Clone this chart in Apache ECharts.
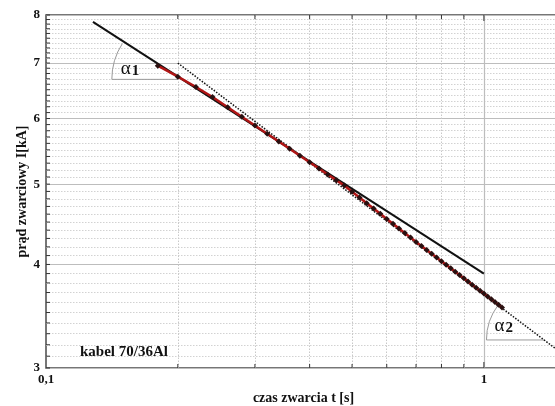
<!DOCTYPE html>
<html><head><meta charset="utf-8">
<script src="https://cdn.jsdelivr.net/npm/echarts@6/dist/echarts.min.js"></script>
<style>html,body{margin:0;padding:0;background:#fff}#c{width:555px;height:406px}</style>
</head><body><div id="c"></div>
<script>
// measured short-circuit current vs time (log-log)
const tValues = [0.18,0.20,0.22,0.24,0.26,0.28,0.30,0.32,0.34,0.36,0.38,0.40,0.42,0.44,0.46,0.48,
  0.50,0.52,0.54,0.56,0.58,0.60,0.62,0.64,0.66,0.68,0.70,0.72,0.74,0.76,0.78,0.80,0.82,0.84,0.86,0.88,
  0.90,0.92,0.94,0.96,0.98,1.00,1.02,1.04,1.06,1.08,1.10];
const iValues = [6.95,6.74,6.55,6.37,6.19,6.03,5.885,5.751,5.629,5.516,5.411,5.313,5.222,5.136,5.056,4.98,
  4.896,4.818,4.742,4.672,4.604,4.539,4.479,4.420,4.364,4.311,4.259,4.21,4.164,4.120,4.077,4.036,3.996,3.957,3.920,3.884,
  3.849,3.815,3.782,3.750,3.719,3.689,3.659,3.631,3.603,3.576,3.55];
// tangent at the start (alpha1) and tangent at the end (alpha2)
const tangent1T = [0.128, 1.0];
const tangent1I = [7.85, 3.90];
const tangent2T = [0.2, 1.5];
const tangent2I = [7.0, 3.13];
// axes
const yMajorTicks = [3,4,5,6,7,8];
const yMinorTicks = [3.1,3.2,3.3,3.4,3.5,3.6,3.7,3.8,3.9,4.1,4.2,4.3,4.4,4.5,4.6,4.7,4.8,4.9,
  5.1,5.2,5.3,5.4,5.5,5.6,5.7,5.8,5.9,6.1,6.2,6.3,6.4,6.5,6.6,6.7,6.8,6.9,7.1,7.2,7.3,7.4,7.5,7.6,7.7,7.8,7.9];
const xMinorTicks = [0.2,0.3,0.4,0.5,0.6,0.7,0.8,0.9];
const xMajorTicks = [0.1, 1];
const xTickLabels = ['0,1', '1'];
const xRange = [0.1, 1.5];
const yRange = [3, 8];
const caption = 'kabel 70/36Al';
const xName = 'czas zwarcia t [s]';
const yName = 'prąd zwarciowy I[kA]';

const FONT = "'Liberation Serif','DejaVu Serif',serif";
const chart = echarts.init(document.getElementById('c'), null, {renderer: 'canvas'});

const gridLines = [];
yMajorTicks.forEach(v => gridLines.push({yAxis: v,
  lineStyle: {type: 'solid', color: '#bdbdbd', width: 1.2},
  label: {show: true, position: 'start', formatter: String(v), distance: 6,
    fontFamily: FONT, fontWeight: 'bold', fontSize: 13, color: '#111'}}));
yMinorTicks.forEach(v => gridLines.push({yAxis: v,
  lineStyle: {type: [1.5, 1.5], color: '#d2d2d2', width: 1}, label: {show: false}}));
xMinorTicks.forEach(v => gridLines.push({xAxis: v,
  lineStyle: {type: [1.5, 1.5], color: '#c8c8c8', width: 1}, label: {show: false}}));
xMajorTicks.forEach((v, k) => gridLines.push({xAxis: v,
  lineStyle: {type: 'solid', color: k === 0 ? 'rgba(0,0,0,0)' : '#bdbdbd', width: 1.2},
  label: {show: true, position: 'start', formatter: xTickLabels[k], distance: 5,
    fontFamily: FONT, fontWeight: 'bold', fontSize: 13, color: '#111'}}));

const option = {
  animation: false,
  backgroundColor: '#fff',
  grid: {left: 46, top: 15, height: 353, width: 515, containLabel: false, outerBoundsMode: 'none',
    show: true, borderColor: '#4a4a4a', borderWidth: 1.5},
  xAxis: {type: 'log', logBase: 10, min: xRange[0], max: xRange[1],
    axisLine: {show: false}, axisTick: {show: false}, axisLabel: {show: false}, splitLine: {show: false},
    name: xName, nameLocation: 'middle', nameGap: 23,
    nameTextStyle: {fontFamily: FONT, fontWeight: 'bold', fontSize: 14, color: '#111'}},
  yAxis: {type: 'log', logBase: 10, min: yRange[0], max: yRange[1],
    axisLine: {show: false}, axisTick: {show: false}, axisLabel: {show: false}, splitLine: {show: false},
    name: yName, nameLocation: 'middle', nameGap: 17, nameRotate: 90,
    nameTextStyle: {fontFamily: FONT, fontWeight: 'bold', fontSize: 14, color: '#111'}},
  series: [
    {type: 'line', data: [], clip: false, silent: true, z: 1,
      markLine: {silent: true, z: 1, symbol: ['none', 'none'], animation: false, data: gridLines}},
    {type: 'line', name: 'styczna 1', data: tangent1T.map((t, k) => [t, tangent1I[k]]),
      showSymbol: false, symbol: 'none', silent: true, z: 6,
      lineStyle: {color: '#111', width: 2}},
    {type: 'line', name: 'styczna 2', data: tangent2T.map((t, k) => [t, tangent2I[k]]),
      showSymbol: false, symbol: 'none', silent: true, z: 6,
      lineStyle: {color: '#111', width: 1.5, type: [1.5, 1.5]}},
    {type: 'line', name: 'pomiar', data: tValues.map((t, k) => [t, iValues[k]]),
      symbol: 'diamond', symbolSize: 6, silent: true, z: 7,
      itemStyle: {color: '#2a1010'},
      lineStyle: {color: '#b01515', width: 2.5}}
  ]
};
chart.setOption(option);

const px = (x, y) => chart.convertToPixel({gridIndex: 0}, [x, y]);
const g = [];
const tick = (x1, y1, x2, y2) => g.push({type: 'line', silent: true, z: 10,
  shape: {x1, y1, x2, y2}, style: {stroke: '#333', lineWidth: 1}});
yMinorTicks.concat(yMajorTicks).forEach(v => { const p = px(xRange[0], v); tick(p[0], p[1], p[0] + 4, p[1]); });
xMinorTicks.concat([1]).forEach(v => {
  const b = px(v, yRange[0]), t = px(v, yRange[1]);
  const L = v === 1 ? 6 : 4;
  tick(b[0], b[1], b[0], b[1] - L); tick(t[0], t[1], t[0], t[1] + L);
});

// angle annotations
function angleMark(center, lineT, lineI, r, sub, dx, dy) {
  const c = px(center[0], center[1]);
  const a = px(lineT[0], lineI[0]), b = px(lineT[1], lineI[1]);
  let ang = Math.atan2(a[1] - b[1], a[0] - b[0]);
  if (ang < 0) ang += 2 * Math.PI;
  g.push({type: 'arc', silent: true, z: 6,
    shape: {cx: c[0], cy: c[1], r, startAngle: Math.PI, endAngle: ang, clockwise: true},
    style: {stroke: '#9a9a9a', fill: 'none', lineWidth: 1}});
  g.push({type: 'line', silent: true, z: 6,
    shape: {x1: c[0] - r, y1: c[1], x2: c[0], y2: c[1]}, style: {stroke: '#9a9a9a', lineWidth: 1}});
  g.push({type: 'text', silent: true, z: 7, x: c[0] + dx, y: c[1] + dy,
    style: {text: 'α', fontFamily: FONT, fontSize: 19, fill: '#111', textAlign: 'left', textVerticalAlign: 'middle'}});
  g.push({type: 'text', silent: true, z: 7, x: c[0] + dx + 11, y: c[1] + dy + 2,
    style: {text: sub, fontFamily: FONT, fontWeight: 'bold', fontSize: 15, fill: '#111', textAlign: 'left', textVerticalAlign: 'middle'}});
}
angleMark([0.2, 6.69], tangent1T, tangent1I, 66, '1', -57, -10);
angleMark([1.375, 3.243], tangent2T, tangent2I, 58, '2', -50, -14);

const bl = px(xRange[0], yRange[0]);
g.push({type: 'text', silent: true, z: 7, x: bl[0] + 34, y: bl[1] - 16,
  style: {text: caption, fontFamily: FONT, fontWeight: 'bold', fontSize: 15, fill: '#111', textAlign: 'left', textVerticalAlign: 'middle'}});

chart.setOption({graphic: g});
</script></body></html>
